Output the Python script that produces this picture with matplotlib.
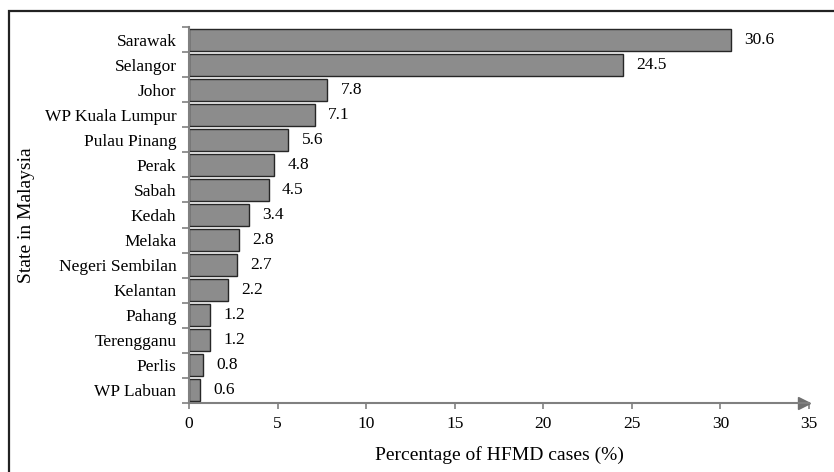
import matplotlib.pyplot as plt
from matplotlib.patches import Rectangle

states = ["Sarawak", "Selangor", "Johor", "WP Kuala Lumpur", "Pulau Pinang",
          "Perak", "Sabah", "Kedah", "Melaka", "Negeri Sembilan", "Kelantan",
          "Pahang", "Terengganu", "Perlis", "WP Labuan"]
pct = [30.6, 24.5, 7.8, 7.1, 5.6, 4.8, 4.5, 3.4, 2.8, 2.7, 2.2, 1.2, 1.2, 0.8, 0.6]
xticks = [0, 5, 10, 15, 20, 25, 30, 35]

plt.rcParams['font.family'] = ['Liberation Serif', 'DejaVu Serif']
plt.rcParams['font.size'] = 12.5

fig = plt.figure(figsize=(8.34, 4.72), dpi=100)
ax = fig.add_axes([0.2266, 0.1462, 0.7434, 0.7966])

# outer frame (right/bottom edges fall outside the image)
fig.add_artist(Rectangle((9 / 834, -0.05), 1.0, 1 - 11 / 472 + 0.05,
                         transform=fig.transFigure, fill=False,
                         edgecolor='#222222', linewidth=1.6))

ypos = list(range(len(states)))[::-1]
ax.barh(ypos, pct, height=0.88, color='#8c8c8c', edgecolor='#262626', linewidth=1.0)
for y, v in zip(ypos, pct):
    ax.text(v + 0.75, y, f"{v}", va='center', ha='left', fontsize=12.5)

ax.set_xlim(0, 35)
ax.set_ylim(-0.5, len(states) - 0.5)
ax.set_xticks(xticks)
ax.set_yticks(ypos)
ax.set_yticklabels(states)
ax.tick_params(axis='y', length=0, pad=9)
ax.set_yticks([i - 0.5 for i in range(len(states) + 1)], minor=True)
ax.tick_params(axis='y', which='minor', length=5, color='#808080', width=1.2)
ax.tick_params(axis='x', direction='out', length=4.5, color='#808080', width=1.2, pad=5)

for s in ['top', 'right']:
    ax.spines[s].set_visible(False)
for s in ['left', 'bottom']:
    ax.spines[s].set_color('#808080')
    ax.spines[s].set_linewidth(1.5)
ax.plot(34.72, 0, marker='>', color='#707070', markersize=8,
        transform=ax.get_xaxis_transform(), clip_on=False)

ax.set_xlabel("Percentage of HFMD cases (%)", fontsize=14, labelpad=10)
ax.set_ylabel("State in Malaysia", fontsize=14)
ax.yaxis.set_label_coords(-0.248, 0.5)

fig.savefig("out.png", dpi=100)
